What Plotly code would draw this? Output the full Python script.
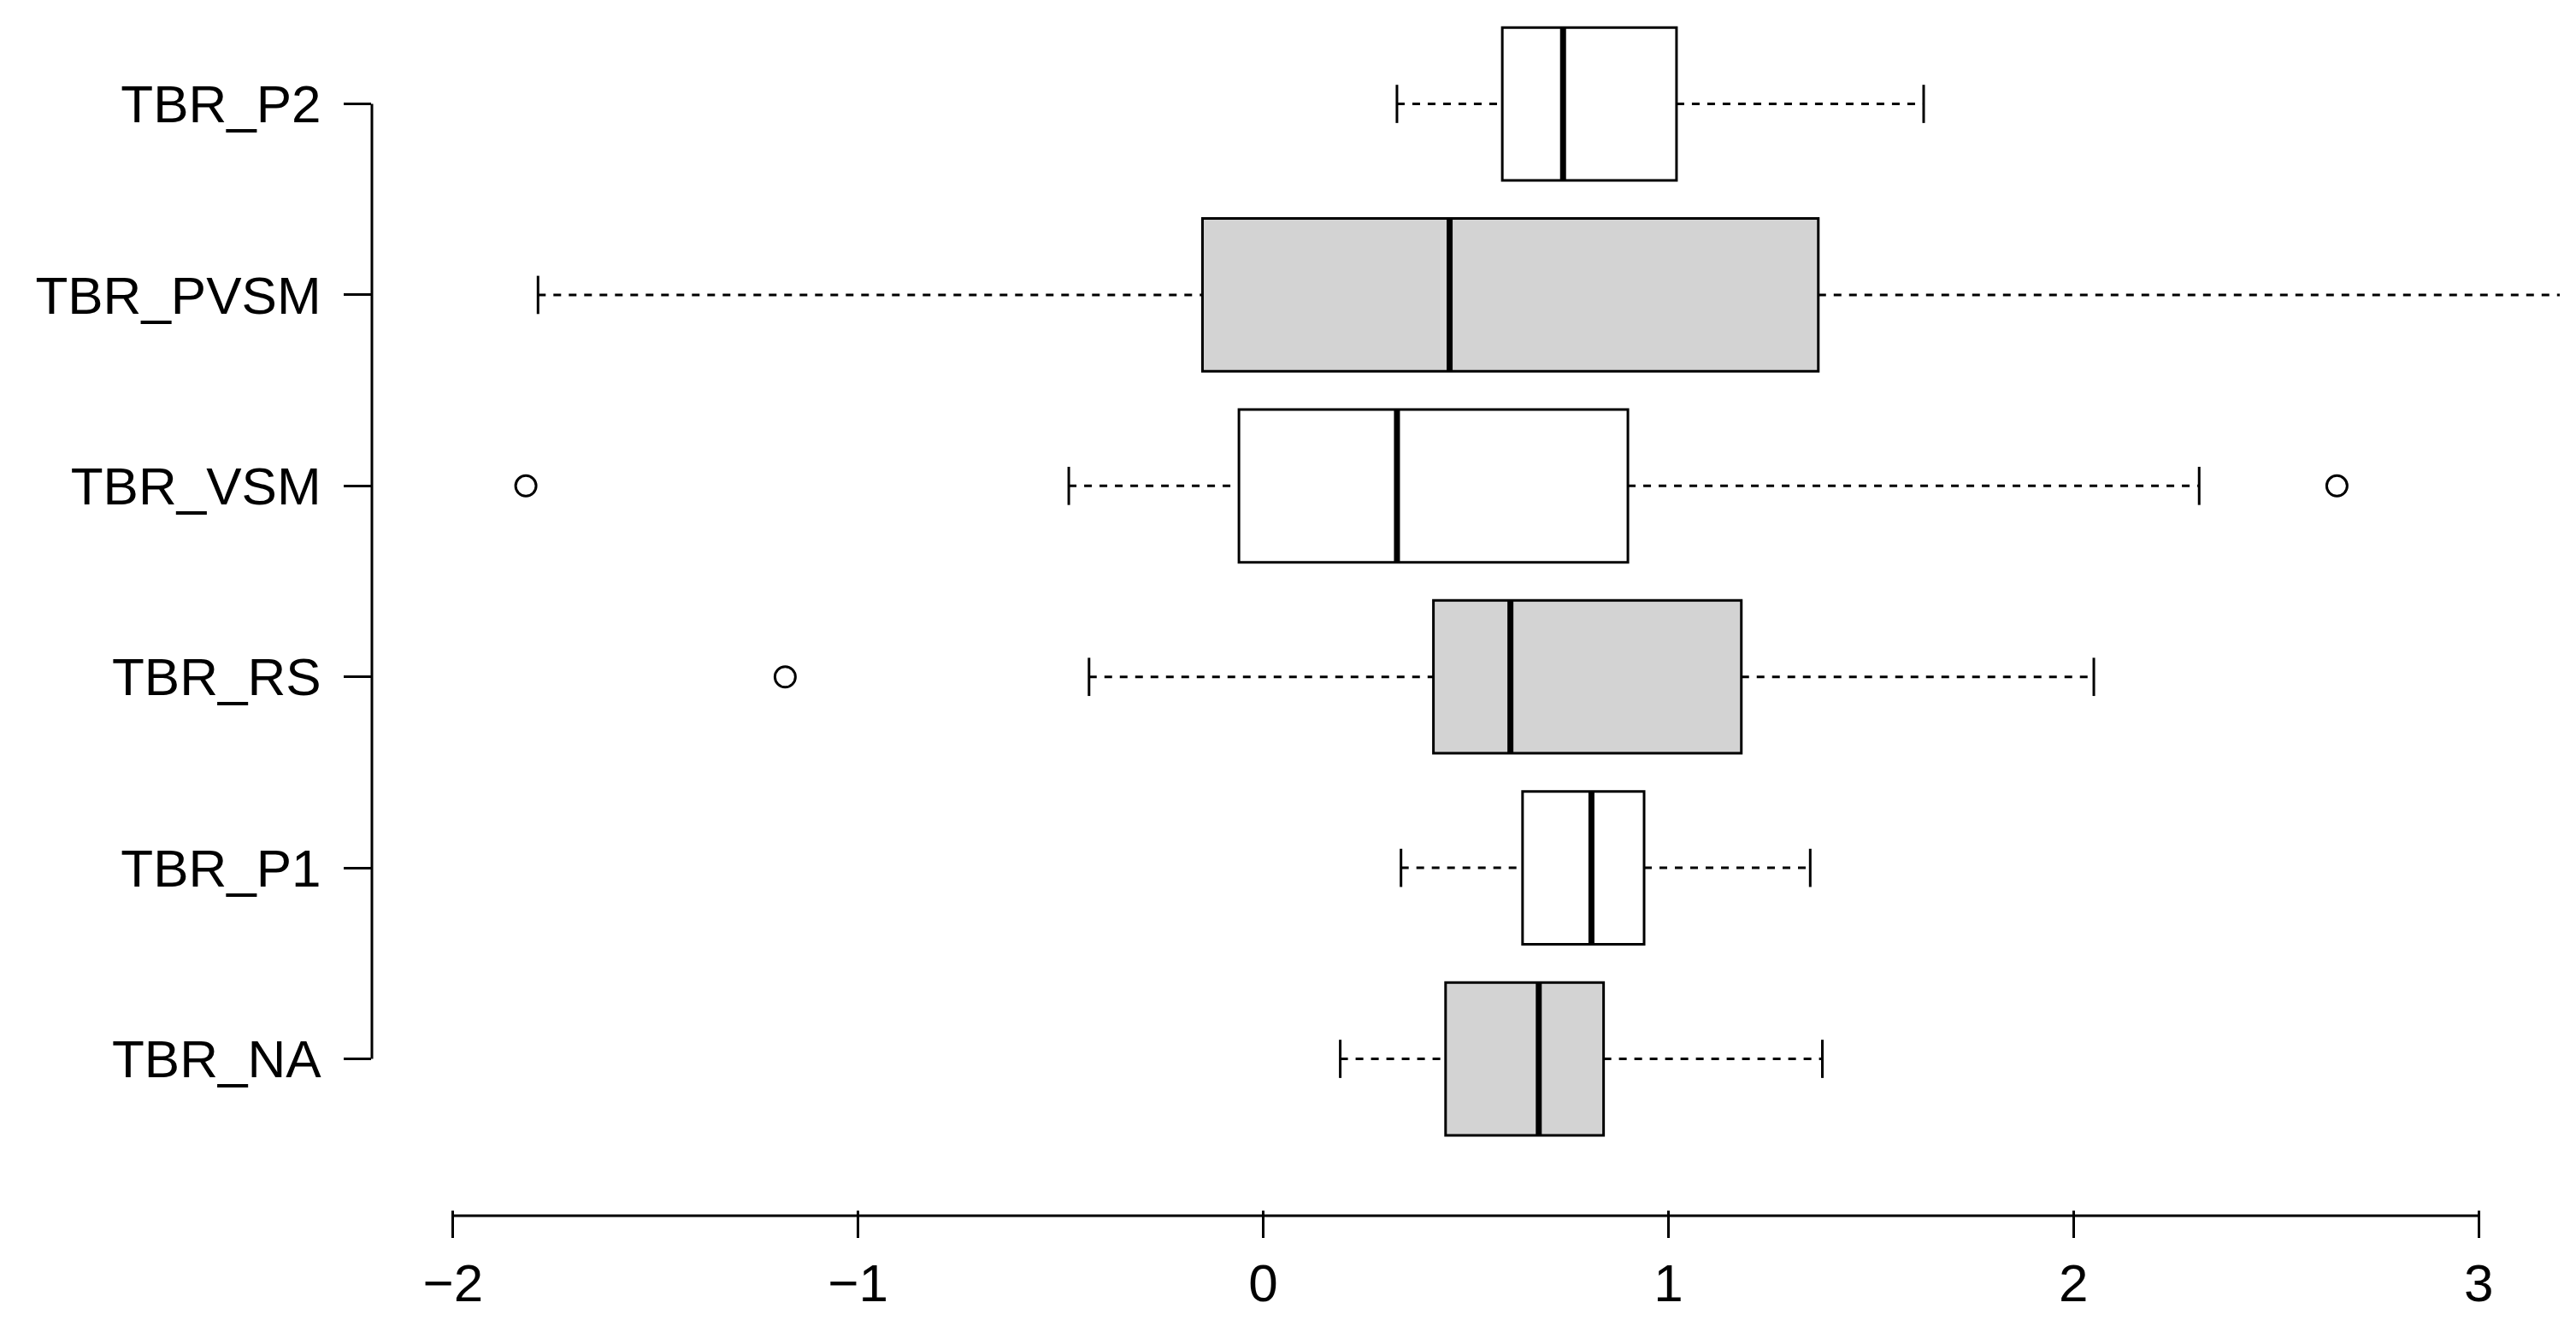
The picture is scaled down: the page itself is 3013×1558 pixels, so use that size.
import plotly.graph_objects as go

cats = ["TBR_NA", "TBR_P1", "TBR_RS", "TBR_VSM", "TBR_PVSM", "TBR_P2"]
lowf = [0.19, 0.34, -0.43, -0.48, -1.79, 0.33]
q1 = [0.45, 0.64, 0.42, -0.06, -0.15, 0.59]
med = [0.68, 0.81, 0.61, 0.33, 0.46, 0.74]
q3 = [0.84, 0.94, 1.18, 0.90, 1.37, 1.02]
upf = [1.38, 1.35, 2.05, 2.31, 3.25, 1.63]
fills = ["#d3d3d3", "white", "#d3d3d3", "white", "#d3d3d3", "white"]
out_x = [-1.18, -1.82, 2.65]
out_y = [2, 3, 3]
xticks = [-2, -1, 0, 1, 2, 3]

fig = go.Figure()
ys = list(range(len(cats)))
hw = 0.4
cap = 0.1
for i in ys:
    fig.add_trace(go.Scatter(x=[lowf[i], q1[i]], y=[i, i], mode="lines",
                             line=dict(color="black", width=3, dash="dash"), showlegend=False))
    fig.add_trace(go.Scatter(x=[q3[i], upf[i]], y=[i, i], mode="lines",
                             line=dict(color="black", width=3, dash="dash"), showlegend=False))
    fig.add_trace(go.Scatter(x=[lowf[i], lowf[i], None, upf[i], upf[i]],
                             y=[i - cap, i + cap, None, i - cap, i + cap], mode="lines",
                             line=dict(color="black", width=3), showlegend=False))
fig.add_trace(go.Bar(y=ys, x=[b - a for a, b in zip(q1, q3)], base=q1, orientation="h",
                     width=0.8, marker=dict(color=fills, line=dict(color="black", width=3)),
                     showlegend=False))
for i in ys:
    fig.add_trace(go.Scatter(x=[med[i], med[i]], y=[i - hw, i + hw], mode="lines",
                             line=dict(color="black", width=7), showlegend=False))
fig.add_trace(go.Scatter(x=out_x, y=out_y, mode="markers",
                         marker=dict(symbol="circle-open", size=24, color="black", line=dict(width=3)),
                         showlegend=False))

fig.add_shape(type="line", xref="x", yref="paper", x0=-2, x1=3, y0=-0.005, y1=-0.005,
              line=dict(color="black", width=3))
fig.add_shape(type="line", xref="paper", yref="y", x0=0, x1=0, y0=0, y1=5,
              line=dict(color="black", width=3))

fig.update_layout(
    width=3013, height=1558, plot_bgcolor="white", paper_bgcolor="white",
    margin=dict(l=427, r=27, t=13, b=151), barmode="overlay",
    font=dict(family="Liberation Sans", size=62, color="black"),
    xaxis=dict(range=[-2.2, 3.2], tickvals=xticks, ticktext=["\u22122", "\u22121", "0", "1", "2", "3"],
               showgrid=False, zeroline=False, showline=False, ticks="outside", ticklen=32,
               tickwidth=3, tickcolor="black", ticklabelstandoff=0),
    yaxis=dict(range=[-0.79, 5.45], tickvals=ys, ticktext=cats, showgrid=False, zeroline=False,
               showline=False, ticks="outside", ticklen=32, tickwidth=3, tickcolor="black",
               ticklabelstandoff=14),
)
fig.write_html("out.html")
